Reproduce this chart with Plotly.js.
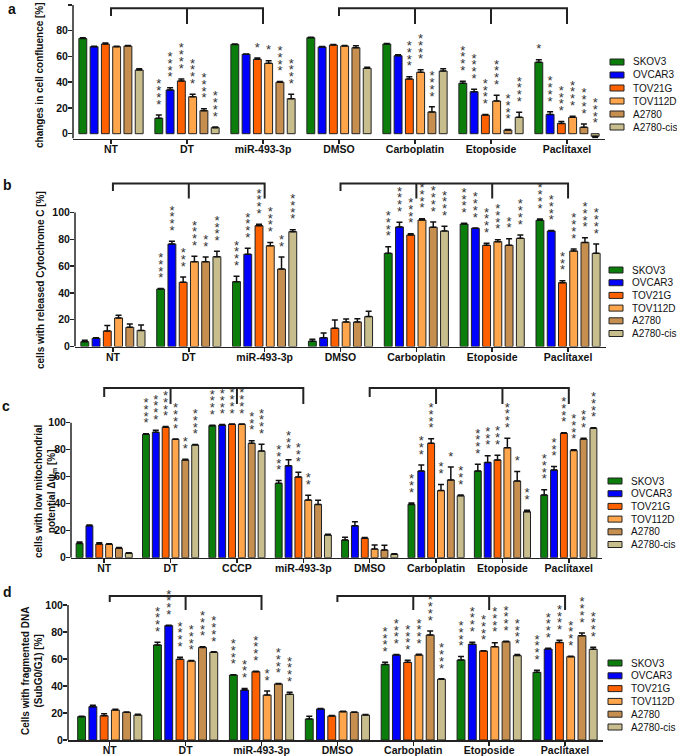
<!DOCTYPE html>
<html>
<head>
<meta charset="utf-8">
<script src="https://cdn.plot.ly/plotly-3.0.1.min.js"></script>
<style>
  html, body { margin: 0; padding: 0; background: #fff; }
  #myPlot { width: 677px; height: 756px; }
</style>
</head>
<body>
<div id="myPlot"></div>
<script>
// cell lines shared by all four panels
const cellLines = ['SKOV3', 'OVCAR3', 'TOV21G', 'TOV112D', 'A2780', 'A2780-cis'];
const cellColors = ['#0b7d0b', '#0000ff', '#ff6000', '#ffa64c', '#c68f50', '#c8bd8c'];

// a - changes in cell confluence [%]
const catsA = ['NT', 'DT', 'miR-493-3p', 'DMSO', 'Carboplatin', 'Etoposide', 'Paclitaxel'];
const valsA = [
  [74, 12, 69.4, 74.6, 69.7, 39.2, 55.5],
  [67.6, 34, 61.7, 67.4, 60.6, 32.6, 15],
  [69.7, 41, 57.8, 68.9, 42.5, 14.5, 8],
  [67.6, 28.7, 54.7, 68.1, 47.7, 25.4, 12.7],
  [68.1, 17.9, 40, 66.8, 16.9, 2.9, 5],
  [49.5, 4.7, 27.2, 50.8, 48.7, 12.7, -2]
];
const errA = [
  [0.5, 2.5, 0.3, 0.4, 0.3, 1.5, 2],
  [0.3, 1.8, 0.3, 0.4, 0.8, 2, 2],
  [0.8, 1.5, 1, 0.5, 1.8, 0.5, 1.5],
  [0.3, 2, 2, 0.4, 2, 4.5, 0.8],
  [0.5, 1.5, 0.5, 1.5, 4, 0.3, 2.5],
  [1, 0.5, 3.5, 0.8, 1.8, 4, 1]
];
const starsA = [
  [0, 4, 0, 0, 0, 4, 1],
  [0, 4, 0, 0, 0, 4, 4],
  [0, 4, 1, 0, 4, 4, 4],
  [0, 4, 1, 0, 4, 4, 4],
  [0, 4, 4, 0, 4, 4, 4],
  [0, 4, 4, 0, 0, 4, 4]
];
const bracketsA = [[0, 1, 2], [3, 4, 5, 6]];

// b - cells with released cytochrome C [%]
const catsB = ['NT', 'DT', 'miR-493-3p', 'DMSO', 'Carboplatin', 'Etoposide', 'Paclitaxel'];
const valsB = [
  [3.6, 42.9, 48.4, 4, 69.5, 91.4, 94.2],
  [6.1, 76.5, 68.8, 6.5, 89.2, 88.2, 86.2],
  [11.6, 47.9, 90.2, 13.6, 83.2, 75.5, 47.6],
  [21.3, 63.3, 75.2, 18.3, 94.4, 78.2, 71.3],
  [14.3, 63.3, 57.8, 18.3, 89, 75.5, 77.7],
  [12, 67, 85.7, 22.3, 86.2, 80.7, 69.5]
];
const errB = [
  [1, 0.3, 4, 1.5, 5, 0.5, 1],
  [0.5, 2, 4.5, 3.5, 3.5, 0.3, 0.3],
  [4, 4, 1, 6.2, 1, 1.5, 1.5],
  [2, 4, 2.5, 2.2, 1, 1.5, 1.5],
  [2.5, 3.5, 9, 2.5, 4, 5, 3.5],
  [4, 4, 1.5, 4, 3.5, 2.5, 7]
];
const starsB = [
  [0, 4, 4, 0, 4, 4, 4],
  [0, 4, 4, 0, 4, 4, 4],
  [0, 3, 4, 0, 4, 4, 3],
  [0, 4, 4, 0, 4, 4, 4],
  [0, 2, 2, 0, 4, 2, 4],
  [0, 4, 4, 0, 4, 4, 4]
];
const bracketsB = [[0, 1, 2], [3, 4, 5, 6]];

// c - cells with low mitochondrial potential [%]
const catsC = ['NT', 'DT', 'CCCP', 'miR-493-3p', 'DMSO', 'Carboplatin', 'Etoposide', 'Paclitaxel'];
const valsC = [
  [10.6, 91.4, 97.8, 55.1, 13.1, 39.5, 64.2, 46.4],
  [23.7, 92.9, 98.3, 68.1, 23.7, 64.2, 70.6, 65],
  [10.1, 96.6, 98.8, 59.8, 14.4, 84.7, 72.4, 92.1],
  [9.9, 87.7, 98.8, 42.7, 6.4, 49.7, 81.5, 79.5],
  [7, 72.4, 84.7, 39.5, 5.7, 57.6, 56.8, 87.9],
  [3.3, 83.5, 79, 16.8, 2.5, 45.9, 34.1, 95.8]
];
const errC = [
  [1, 0.5, 0.3, 2, 2, 1, 5, 4],
  [0.5, 1.5, 0.3, 4.5, 3, 4.5, 5, 2.5],
  [1, 0.5, 0.3, 3.5, 0.5, 3.5, 3.5, 0.5],
  [0.5, 0.3, 0.3, 3.5, 3, 4.5, 7, 0.5],
  [0.5, 0.5, 2, 3, 3.5, 9.5, 7, 0.5],
  [0.3, 0.3, 5, 0.5, 0.5, 0.5, 1, 0.5]
];
const starsC = [
  [0, 4, 4, 4, 0, 3, 4, 4],
  [0, 4, 4, 3, 0, 3, 3, 3],
  [0, 4, 4, 3, 0, 4, 3, 4],
  [0, 4, 4, 2, 0, 2, 4, 4],
  [0, 2, 3, 0, 0, 1, 1, 3],
  [0, 4, 4, 0, 0, 3, 2, 4]
];
const bracketsC = [[0, 1, 2, 3], [4, 5, 6, 7]];

// d - cells with fragmented DNA (SubG0/G1) [%]
const catsD = ['NT', 'DT', 'miR-493-3p', 'DMSO', 'Carboplatin', 'Etoposide', 'Paclitaxel'];
const valsD = [
  [17.3, 70.4, 48.1, 15.6, 56, 59.3, 50.1],
  [24.7, 84.7, 37, 23, 63, 70.9, 67.4],
  [18, 59.8, 50.6, 17.8, 57.5, 65.9, 72.3],
  [22.2, 58.5, 33.3, 21, 63, 69.1, 61.7],
  [20.5, 68.6, 41.5, 20.5, 77.8, 72.8, 77.3],
  [18.5, 65, 33.8, 18.5, 45, 62.5, 67.2]
];
const errD = [
  [0.3, 2, 0.3, 2, 1.5, 2.5, 1.5],
  [1, 0.3, 1.2, 0.3, 0.3, 1.5, 0.5],
  [1.5, 1.5, 0.3, 0.3, 1.5, 0.3, 1.5],
  [0.5, 0.3, 3, 0.3, 0.5, 3, 0.3],
  [0.3, 0.5, 0.3, 0.3, 3, 0.3, 2],
  [0.5, 0.3, 1.5, 0.3, 0.3, 0.8, 1.5]
];
const starsD = [
  [0, 4, 4, 0, 4, 4, 4],
  [0, 4, 3, 0, 4, 4, 4],
  [0, 4, 4, 0, 4, 4, 4],
  [0, 4, 2, 0, 4, 4, 4],
  [0, 4, 4, 0, 4, 4, 4],
  [0, 4, 4, 0, 4, 4, 4]
];
const bracketsD = [[0, 1, 2], [3, 4, 5, 6]];

// page geometry (pixels of the 677x756 figure)
const W = 677, H = 756;
const fx = p => p / W;
const fy = p => 1 - p / H;
const FONT = 'Liberation Sans, Arial, sans-serif';
const BARGAP = 0.11;
const INK = '#222';

const panels = [
  { letter: 'a', cats: catsA, vals: valsA, err: errA, stars: starsA, brackets: bracketsA,
    left: 73, right: 605, x0: -0.5, zero: 133.7, k: 1.287, top: 2, bottom: 138.5,
    br: [97.4, 91.5, 85.2], title: 'changes in cell confluence [%]', tx: 40, ty: 75,
    lx: 610, ly: 62, lstep: 13, pos: [12, 9] },
  { letter: 'b', cats: catsB, vals: valsB, err: errB, stars: starsB, brackets: bracketsB,
    left: 75, right: 606, x0: -0.5, zero: 346.5, k: 1.34, top: 178, bottom: 346.5,
    br: [121.6, 116, 110.4], title: 'cells with released Cytochrome C [%]', tx: 40, ty: 280,
    lx: 609, ly: 270, lstep: 12.7, pos: [7, 185] },
  { letter: 'c', cats: catsC, vals: valsC, err: errC, stars: starsC, brackets: bracketsC,
    left: 71, right: 602, x0: -0.5, zero: 557.7, k: 1.35, top: 384, bottom: 557.7,
    br: [125.7, 119, 113.9], title: 'cells with low mitochondrial<br>potential \u0394\u03c8<sub>m</sub> [%]', tx: 46, ty: 491,
    lx: 608, ly: 481, lstep: 12.7, pos: [6, 406] },
  { letter: 'd', cats: catsD, vals: valsD, err: errD, stars: starsD, brackets: bracketsD,
    left: 68, right: 603, x0: -0.55, zero: 740, k: 1.35, top: 590, bottom: 740,
    br: [106.7, 102.2, 96.3], title: 'Cells with fragmented DNA<br>(SubG0/G1) [%]', tx: 32, ty: 671,
    lx: 608, ly: 663, lstep: 12.8, pos: [7, 592] }
];

const data = [];
const shapes = [];
const annotations = [];
const layout = {
  width: W, height: H,
  margin: { l: 0, r: 0, t: 0, b: 0 },
  paper_bgcolor: '#fff', plot_bgcolor: 'rgba(0,0,0,0)',
  barmode: 'group', bargap: BARGAP, bargroupgap: 0.3,
  showlegend: false,
  font: { family: FONT, color: '#111' }
};

const tickFont = { family: FONT, size: 10.5, weight: 'bold', color: '#111' };

panels.forEach((p, i) => {
  const n = i === 0 ? '' : String(i + 1);
  const xa = 'x' + n, ya = 'y' + n;
  const yr = [(p.zero - p.bottom) / p.k, (p.zero - p.top) / p.k];
  const idx = p.cats.map((c, j) => j);

  layout['xaxis' + n] = {
    domain: [fx(p.left), fx(p.right)], anchor: ya,
    range: [p.x0, p.cats.length - 0.5],
    tickvals: idx, ticktext: p.cats,
    showline: true, linewidth: 1.5, linecolor: INK,
    ticks: 'outside', ticklen: 4, tickwidth: 1.5, tickcolor: INK,
    ticklabelstandoff: -4,
    showgrid: false, zeroline: false, tickfont: tickFont
  };
  layout['yaxis' + n] = {
    domain: [fy(p.bottom), fy(p.top)], anchor: xa,
    range: yr,
    tickvals: [0, 20, 40, 60, 80, 100],
    ticks: 'outside', ticklen: 4, tickwidth: 1.5, tickcolor: INK,
    ticklabelstandoff: -2,
    showline: false, showgrid: false, zeroline: false, tickfont: tickFont
  };

  // bars with upward error bars
  p.vals.forEach((v, s) => {
    data.push({
      type: 'bar', x: idx, y: v, name: cellLines[s],
      xaxis: xa, yaxis: ya,
      marker: { color: cellColors[s], line: { color: INK, width: 1 } },
      error_y: {
        type: 'data', symmetric: false,
        array: v.map((y, j) => y >= 0 ? p.err[s][j] : 0),
        arrayminus: v.map((y, j) => y < 0 ? p.err[s][j] : 0),
        color: '#111', thickness: 1.5, width: 3
      },
      hoverinfo: 'skip'
    });
  });

  // significance asterisks stacked above each bar
  const slot = (1 - BARGAP) / cellLines.length;
  const sx = [], sy = [];
  p.stars.forEach((row, s) => row.forEach((cnt, j) => {
    const v = p.vals[s][j];
    const base = v >= 0 ? v + p.err[s][j] : 0;
    for (let q = 0; q < cnt; q++) {
      sx.push(j + (s - (cellLines.length - 1) / 2) * slot);
      sy.push(base + (9.5 + 6.8 * q) / p.k);
    }
  }));
  data.push({
    type: 'scatter', mode: 'text', x: sx, y: sy, text: sx.map(() => '*'),
    textfont: { family: FONT, size: 13, color: '#333' },
    xaxis: xa, yaxis: ya, cliponaxis: false, hoverinfo: 'skip'
  });

  // y axis line stops at 100
  shapes.push({
    type: 'line', xref: xa + ' domain', yref: ya, x0: 0, x1: 0, y0: yr[0], y1: 100,
    line: { color: INK, width: 1.5 }
  });

  // comparison brackets
  const [bTop, bShort, bLong] = p.br;
  p.brackets.forEach(g => {
    const a = g[0], z = g[g.length - 1];
    let path = `M${a},${bShort} L${a},${bTop} L${z},${bTop} L${z},${bLong}`;
    g.slice(1, -1).forEach(c => { path += ` M${c},${bTop} L${c},${bLong}`; });
    shapes.push({ type: 'path', xref: xa, yref: ya, path: path, line: { color: INK, width: 2 } });
  });

  // legend drawn by hand to keep the tight row spacing
  cellLines.forEach((name, s) => {
    const cy = p.ly + s * p.lstep;
    shapes.push({
      type: 'rect', xref: 'paper', yref: 'paper',
      x0: fx(p.lx), x1: fx(p.lx + 14), y0: fy(cy + 3), y1: fy(cy - 3),
      fillcolor: cellColors[s], line: { color: INK, width: 1 }
    });
    annotations.push({
      xref: 'paper', yref: 'paper', x: fx(p.lx + 21), y: fy(cy),
      xanchor: 'left', yanchor: 'middle', showarrow: false, text: name,
      font: { family: FONT, size: 10, color: '#111' }
    });
  });

  // y title
  annotations.push({
    xref: 'paper', yref: 'paper', x: fx(p.tx), y: fy(p.ty),
    xanchor: 'center', yanchor: 'middle', showarrow: false, textangle: -90,
    text: p.title, font: { family: FONT, size: 10, weight: 'bold', color: '#111' }
  });

  // panel letter
  annotations.push({
    xref: 'paper', yref: 'paper', x: fx(p.pos[0]), y: fy(p.pos[1]),
    xanchor: 'center', yanchor: 'middle', showarrow: false,
    text: p.letter, font: { family: FONT, size: 14, weight: 'bold', color: '#111' }
  });
});

layout.shapes = shapes;
layout.annotations = annotations;

Plotly.newPlot('myPlot', data, layout, { displayModeBar: false, staticPlot: true });
</script>
</body>
</html>
